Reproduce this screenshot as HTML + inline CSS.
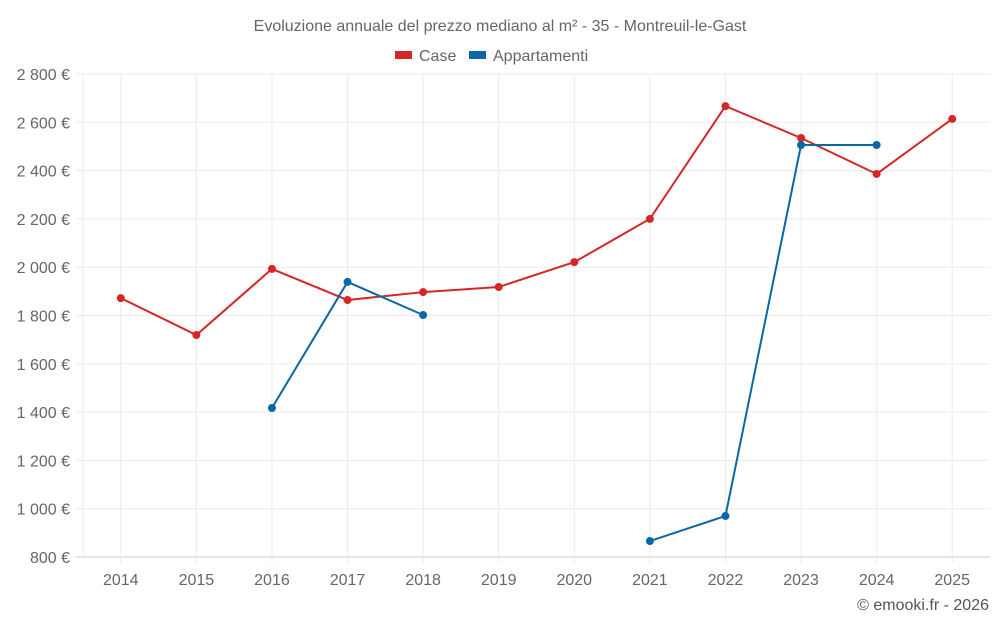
<!DOCTYPE html>
<html><head><meta charset="utf-8"><style>
body{margin:0;background:#fff;font-family:"Liberation Sans",sans-serif}
text{font-family:"Liberation Sans",sans-serif}
</style></head><body>
<svg id="chart" width="1000" height="625" xmlns="http://www.w3.org/2000/svg">
<text x="500" y="31" text-anchor="middle" font-size="16" fill="#666">Evoluzione annuale del prezzo mediano al m² - 35 - Montreuil-le-Gast</text>
<g><rect x="395" y="51" width="17" height="8" fill="#d62728"/><text x="419" y="61" font-size="16" fill="#666">Case</text></g>
<g><rect x="469" y="51" width="17" height="8" fill="#0868a4"/><text x="493" y="61" font-size="16" fill="#666">Appartamenti</text></g>
<g id="grid"></g><g id="marks"></g>
<text x="989" y="610" text-anchor="end" font-size="16" fill="#555">© emooki.fr - 2026</text>
</svg>
<script>
const years=[2014,2015,2016,2017,2018,2019,2020,2021,2022,2023,2024,2025];
const caseValues=[1872,1719,1993,1864,1897,1918,2021,2200,2667,2535,2386,2614];
const appValues=[null,null,1417,1939,1802,null,null,866,970,2506,2506,null];
const yTicks=[800,1000,1200,1400,1600,1800,2000,2200,2400,2600,2800];
const L=83,R=990,T=74,B=557,ymin=800,ymax=2800;
const step=(R-L)/years.length;
const x=i=>L+step*(i+0.5);
const y=v=>B-(v-ymin)/(ymax-ymin)*(B-T);
const ns="http://www.w3.org/2000/svg";
function mk(tag,attrs,parent){const e=document.createElementNS(ns,tag);for(const k in attrs)e.setAttribute(k,attrs[k]);parent.appendChild(e);return e;}
const g=document.getElementById('grid'),m=document.getElementById('marks');
yTicks.forEach(v=>{
 const l=mk('line',{x1:76,x2:R,y1:y(v),y2:y(v),stroke:v===800?'#ccc':'#ebebeb'},g);
 
 
 const t=mk('text',{x:70,y:y(v)+6,'text-anchor':'end','font-size':16,fill:'#666'},g);
 t.textContent=v.toLocaleString('fr-FR').replace(/\s/g,' ')+' €';
 
 
});
mk('line',{x1:L,x2:L,y1:T,y2:B,stroke:'#ebebeb'},g);
years.forEach((yr,i)=>{
 const l=mk('line',{x1:x(i),x2:x(i),y1:T,y2:B+6,stroke:'#ebebeb'},g);
 
 
 const t=mk('text',{x:x(i),y:585,'text-anchor':'middle','font-size':16,fill:'#666'},g);
 t.textContent=yr;
 
 
});
function series(vals,color,name){
 let d='',pen=false;
 vals.forEach((v,i)=>{if(v==null){pen=false;return;}d+=(pen?'L':'M')+x(i)+' '+y(v)+' ';pen=true;});
 const p=mk('path',{d:d,fill:'none',stroke:color,'stroke-width':2},m);
 
 
 vals.forEach((v,i)=>{if(v==null)return;
  const c=mk('circle',{cx:x(i),cy:y(v),r:4,fill:color},m);
  
  
 });
}
series(caseValues,'#d62728','case');
series(appValues,'#0868a4','appartamenti');
</script>
</body></html>
